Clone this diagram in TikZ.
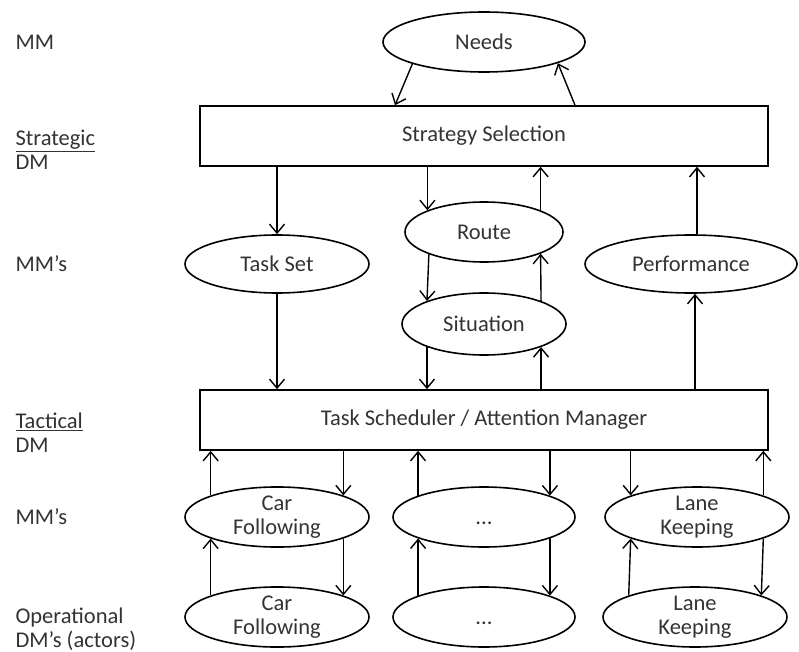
\documentclass[tikz,border=0pt]{standalone}
\usepackage{fontspec}
\setmainfont{Carlito}
\usepackage{xcolor}
\usetikzlibrary{arrows.meta, positioning, shapes.geometric}
\tikzset{
    >={Straight Barb[length=9pt, width=15pt]}, % open arrow heads
    every node/.style={font=\fontsize{22.5}{24}\selectfont, text=black!80},
}
\tikzstyle{block} = [rectangle, minimum width=568pt, minimum height=60pt, draw=black, line width=1.6pt]
\tikzstyle{model} = [ellipse, inner sep=0pt, draw=black, line width=1.6pt, align=center]
\tikzstyle{level} = [anchor=west, align=left]
\tikzstyle{arrow} = [line width=1.4pt, ->]

\begin{document}
\begin{tikzpicture}[x=1pt, y=-1pt]
    \useasboundingbox (0,0) rectangle (799,652);

    % Livelli a sinistra
    \node (lvMM) [level] at (12,42) {MM};
    \node (lvStrat) [level] at (12,150) {\underline{Strategic}\\DM};
    \node (lvMMs) [level] at (12,264) {MM’s};
    \node (lvTact) [level] at (12,433) {\underline{Tactical}\\DM};
    \node (lvMMs2) [level] at (12,517) {MM’s};
    \node (lvOper) [level] at (12,629) {Operational\\DM’s (actors)};

    % Blocchi principali
    \node (needs) [model, minimum width=202pt, minimum height=60pt] at (484,42) {Needs};
    \node (strat) [block] at (484,136) {Strategy Selection};
    \node (taskSet) [model, minimum width=184pt, minimum height=58pt] at (277,264) {Task Set};
    \node (route) [model, minimum width=158pt, minimum height=60pt] at (484,232) {Route};
    \node (situation) [model, minimum width=164pt, minimum height=62pt] at (484,324) {Situation};
    \node (perf) [model, minimum width=212pt, minimum height=58pt] at (691,264) {Performance};
    \node (sched) [block] at (484,420) {Task Scheduler / Attention Manager};

    % Modelli e attori
    \node (carMM) [model, minimum width=184pt, minimum height=60pt] at (277,517) {Car\\Following};
    \node (dotsMM) [model, minimum width=182pt, minimum height=60pt] at (484,517) {\raisebox{-7pt}[0pt][0pt]{...}};
    \node (laneMM) [model, minimum width=184pt, minimum height=60pt] at (697,517) {Lane\\Keeping};
    \node (carOp) [model, minimum width=184pt, minimum height=60pt] at (277,617) {Car\\Following};
    \node (dotsOp) [model, minimum width=182pt, minimum height=60pt] at (484,617) {\raisebox{-7pt}[0pt][0pt]{...}};
    \node (laneOp) [model, minimum width=184pt, minimum height=60pt] at (695,617) {Lane\\Keeping};

    % Frecce livello strategico
    \draw [arrow] (needs.197) -- ([xshift=-89pt]strat.north);
    \draw [arrow] ([xshift=91pt]strat.north) -- (needs.-16);
    \draw [arrow] (taskSet.north |- strat.south) -- (taskSet.north);
    \draw [arrow] (route.159 |- strat.south) -- (route.159);
    \draw [arrow] (route.21) -- (route.21 |- strat.south);
    \draw [arrow] ([xshift=6pt]perf.north) -- ([xshift=6pt]perf.north |- strat.south);

    % Frecce tra i modelli
    \draw [arrow] (route.202) -- (situation.158);
    \draw [arrow] (situation.22) -- (route.-21);
    \draw [arrow] (taskSet.south) -- (taskSet.south |- sched.north);
    \draw [arrow] (situation.202) -- (situation.202 |- sched.north);
    \draw [arrow] (situation.-22 |- sched.north) -- (situation.-22);
    \draw [arrow] ([xshift=4pt]perf.south |- sched.north) -- ([xshift=4pt]perf.south);

    % Frecce livello tattico
    \draw [arrow] (carMM.162) -- (carMM.162 |- sched.south);
    \draw [arrow] (carMM.18 |- sched.south) -- (carMM.18);
    \draw [arrow] (dotsMM.162) -- (dotsMM.162 |- sched.south);
    \draw [arrow] (dotsMM.18 |- sched.south) -- (dotsMM.18);
    \draw [arrow] (laneMM.162 |- sched.south) -- (laneMM.162);
    \draw [arrow] (laneMM.18) -- (laneMM.18 |- sched.south);

    % Frecce livello operativo
    \draw [arrow] (carOp.162) -- (carMM.198);
    \draw [arrow] (carMM.-18) -- (carOp.18);
    \draw [arrow] (dotsOp.162) -- (dotsMM.198);
    \draw [arrow] (dotsMM.-18) -- (dotsOp.18);
    \draw [arrow] (laneOp.162) -- (laneMM.198);
    \draw [arrow] (laneMM.-18) -- (laneOp.18);

\end{tikzpicture}
\end{document}
